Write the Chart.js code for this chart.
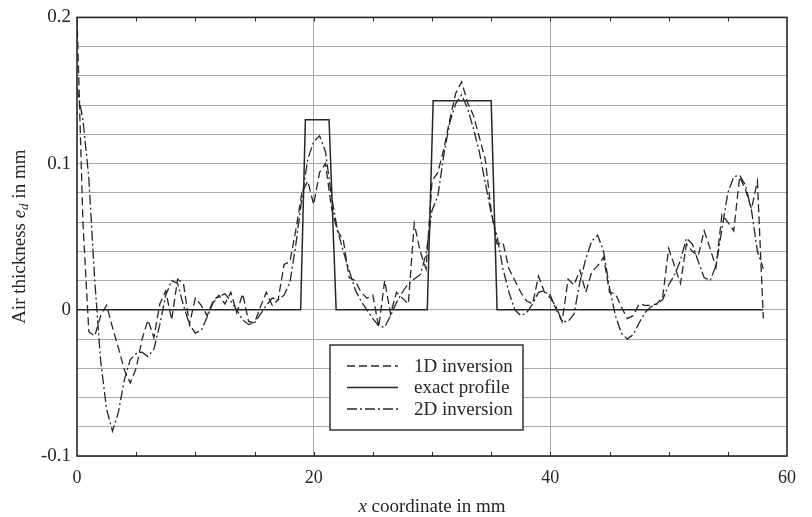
<!DOCTYPE html>
<html>
<head>
<meta charset="utf-8">
<script src="https://cdn.jsdelivr.net/npm/chart.js@4/dist/chart.umd.min.js"></script>
<style>
  html, body { margin: 0; padding: 0; background: #fff; }
  canvas { display: block; }
</style>
</head>
<body>
<canvas id="profil" width="812" height="517"></canvas>
<script>
// abscisses des inversions (mm)
const xInversion = [0,0.5,1,1.5,2,2.5,3,3.5,4,4.5,5,5.5,6,6.5,7,7.5,8,8.5,9,9.5,
  10,10.5,11,11.5,12,12.5,13,13.5,14,14.5,15,15.5,16,16.5,17,17.5,18,18.5,19,19.5,
  20,20.5,21,21.5,22,22.5,23,23.5,24,24.5,25,25.5,26,26.5,27,27.5,28,28.5,29,29.5,
  30,30.5,31,31.5,32,32.5,33,33.5,34,34.5,35,35.5,36,36.5,37,37.5,38,38.5,39,39.5,
  40,40.5,41,41.5,42,42.5,43,43.5,44,44.5,45,45.5,46,46.5,47,47.5,48,48.5,49,49.5,
  50,50.5,51,51.5,52,52.5,53,53.5,54,54.5,55,55.5,56,56.5,57,57.5,58];

// épaisseur d'air (mm) - inversion 1D
const inversion1D = [
  0.200, 0.060, -0.015, -0.018, -0.004, 0.003, -0.012, -0.026, -0.041, -0.050,
  -0.040, -0.020, -0.007, -0.019, 0.004, 0.013, -0.007, 0.021, 0.018, -0.010,
  0.008, 0.003, -0.004, 0.006, 0.010, 0.004, 0.012, -0.002, 0.011, -0.008,
  -0.009, 0.002, 0.012, 0.003, 0.007, 0.031, 0.033, 0.055, 0.080, 0.088,
  0.072, 0.094, 0.100, 0.070, 0.054, 0.048, 0.022, 0.020, 0.012, 0.008,
  0.010, -0.012, 0.020, -0.003, 0.012, 0.008, 0.004, 0.059, 0.040, 0.028,
  0.088, 0.094, 0.110, 0.130, 0.148, 0.156, 0.142, 0.133, 0.118, 0.103,
  0.068, 0.045, 0.046, 0.028, 0.020, 0.012, 0.006, 0.004, 0.023, 0.012,
  0.010, 0.000, -0.008, 0.021, 0.017, 0.027, 0.012, 0.026, 0.030, 0.036,
  0.012, 0.011, 0.002, -0.006, -0.004, 0.004, 0.003, 0.003, 0.004, 0.009,
  0.042, 0.030, 0.018, 0.045, 0.040, 0.037, 0.054, 0.042, 0.029, 0.065,
  0.060, 0.054, 0.091, 0.082, 0.069, 0.088, -0.006];

// épaisseur d'air (mm) - inversion 2D
const inversion2D = [
  0.152, 0.130, 0.090, 0.020, -0.035, -0.068, -0.083, -0.070, -0.048, -0.034,
  -0.030, -0.029, -0.032, -0.027, -0.010, 0.010, 0.020, 0.018, 0.003, -0.010,
  -0.016, -0.014, -0.005, 0.005, 0.009, 0.011, 0.006, 0.000, -0.007, -0.010,
  -0.009, -0.003, 0.003, 0.008, 0.007, 0.010, 0.019, 0.045, 0.076, 0.103,
  0.115, 0.119, 0.108, 0.078, 0.055, 0.040, 0.027, 0.014, 0.006, 0.000,
  -0.006, -0.011, -0.012, -0.004, 0.005, 0.012, 0.018, 0.021, 0.024, 0.038,
  0.068, 0.078, 0.106, 0.128, 0.141, 0.147, 0.138, 0.124, 0.108, 0.087,
  0.066, 0.050, 0.028, 0.012, 0.000, -0.004, -0.002, 0.004, 0.012, 0.013,
  0.008, 0.002, -0.008, -0.008, -0.003, 0.019, 0.035, 0.047, 0.051, 0.040,
  0.015, -0.004, -0.016, -0.020, -0.017, -0.009, -0.002, 0.002, 0.004, 0.007,
  0.017, 0.024, 0.034, 0.049, 0.045, 0.033, 0.022, 0.020, 0.030, 0.055,
  0.080, 0.091, 0.092, 0.085, 0.068, 0.040, 0.028];

// profil exact (deux lames d'air)
const xExact = [0, 18.9, 19.3, 21.3, 21.9, 29.6, 30.1, 35.0, 35.5, 58];
const yExact = [0, 0, 0.13, 0.13, 0, 0, 0.143, 0.143, 0, 0];

const xLabels = [0, 20, 40, 60];
const yLabels = [-0.1, 0, 0.1, 0.2];

const SERIF = '"Liberation Serif", "Times New Roman", serif';
const INK = '#262626';

const pts = (xs, ys) => xs.map((x, i) => ({ x: x, y: ys[i] }));

// cadre, petites graduations, titres d'axes et légende dans le tracé
const habillage = {
  id: 'habillage',
  afterDraw(chart) {
    const { ctx, chartArea: a, scales } = chart;
    const sx = scales.x;
    ctx.save();

    // graduations internes haut / bas
    ctx.strokeStyle = INK;
    ctx.lineWidth = 1;
    for (let v = 5; v < 60; v += 5) {
      const px = Math.round(sx.getPixelForValue(v)) + 0.5;
      ctx.beginPath();
      ctx.moveTo(px, a.top); ctx.lineTo(px, a.top + 4);
      ctx.moveTo(px, a.bottom); ctx.lineTo(px, a.bottom - 4);
      ctx.stroke();
    }

    // cadre
    ctx.lineWidth = 1.6;
    ctx.strokeRect(a.left, a.top, a.right - a.left, a.bottom - a.top);

    // titre axe x : "x coordinate in mm"
    ctx.fillStyle = INK;
    ctx.textBaseline = 'middle';
    const fItal = 'italic 19px ' + SERIF;
    const fNorm = '19px ' + SERIF;
    ctx.font = fItal; const wX = ctx.measureText('x').width;
    ctx.font = fNorm; const wRest = ctx.measureText(' coordinate in mm').width;
    let cx = (a.left + a.right) / 2 - (wX + wRest) / 2;
    ctx.textAlign = 'left';
    ctx.font = fItal; ctx.fillText('x', cx, 507);
    ctx.font = fNorm; ctx.fillText(' coordinate in mm', cx + wX, 507);

    // titre axe y : "Air thickness e_d in mm"
    ctx.save();
    ctx.translate(20, (a.top + a.bottom) / 2);
    ctx.rotate(-Math.PI / 2);
    const parts = [
      { t: 'Air thickness ', f: fNorm, dy: 0 },
      { t: 'e', f: fItal, dy: 0 },
      { t: 'd', f: 'italic 13px ' + SERIF, dy: 5 },
      { t: ' in mm', f: fNorm, dy: 0 }
    ];
    let total = 0;
    parts.forEach(p => { ctx.font = p.f; p.w = ctx.measureText(p.t).width; total += p.w; });
    let px = -total / 2;
    parts.forEach(p => { ctx.font = p.f; ctx.fillText(p.t, px, p.dy); px += p.w; });
    ctx.restore();

    // légende
    const box = { l: 330, t: 345, r: 523, b: 430 };
    ctx.fillStyle = '#fff';
    ctx.fillRect(box.l, box.t, box.r - box.l, box.b - box.t);
    ctx.strokeStyle = INK;
    ctx.lineWidth = 1.4;
    ctx.strokeRect(box.l, box.t, box.r - box.l, box.b - box.t);
    const rows = [366, 387.5, 409];
    chart.data.datasets.forEach((ds, i) => {
      ctx.strokeStyle = ds.borderColor;
      ctx.lineWidth = ds.borderWidth;
      ctx.setLineDash(ds.borderDash || []);
      ctx.beginPath();
      ctx.moveTo(347, rows[i]); ctx.lineTo(398, rows[i]);
      ctx.stroke();
      ctx.setLineDash([]);
      ctx.fillStyle = INK;
      ctx.font = fNorm;
      ctx.fillText(ds.label, 414, rows[i] + 1);
    });
    ctx.restore();
  }
};

new Chart(document.getElementById('profil'), {
  type: 'line',
  data: {
    datasets: [
      {
        label: '1D inversion',
        data: pts(xInversion, inversion1D),
        borderColor: INK, borderWidth: 1.3, borderDash: [8, 4]
      },
      {
        label: 'exact profile',
        data: pts(xExact, yExact),
        borderColor: INK, borderWidth: 1.5
      },
      {
        label: '2D inversion',
        data: pts(xInversion, inversion2D),
        borderColor: INK, borderWidth: 1.3, borderDash: [10, 3, 2, 3]
      }
    ]
  },
  options: {
    responsive: false,
    animation: false,
    events: [],
    layout: { padding: { top: 16, right: 25, left: 0, bottom: 0 } },
    elements: { point: { radius: 0 }, line: { tension: 0 } },
    plugins: { legend: { display: false }, tooltip: { enabled: false } },
    scales: {
      x: {
        type: 'linear', min: 0, max: 60,
        border: { display: false },
        grid: {
          drawTicks: false,
          lineWidth: 1,
          color: c => (c.tick.value === 20 || c.tick.value === 40) ? '#a8a8a8' : 'rgba(0,0,0,0)'
        },
        ticks: {
          stepSize: 5, padding: 11, color: INK, maxRotation: 0, autoSkip: false,
          font: { family: SERIF, size: 18 },
          callback: v => xLabels.includes(v) ? String(v) : ''
        },
        afterFit: s => { s.height = 61; }
      },
      y: {
        min: -0.1, max: 0.2,
        border: { display: false },
        grid: { drawTicks: false, lineWidth: 1, color: '#a8a8a8' },
        ticks: {
          stepSize: 0.02, padding: 6, color: INK, autoSkip: false,
          font: { family: SERIF, size: 19 },
          callback: v => {
            const hit = yLabels.find(l => Math.abs(l - v) < 1e-6);
            return hit === undefined ? '' : String(hit);
          }
        },
        afterFit: s => { s.width = 77; }
      }
    }
  },
  plugins: [habillage]
});
</script>
</body>
</html>
